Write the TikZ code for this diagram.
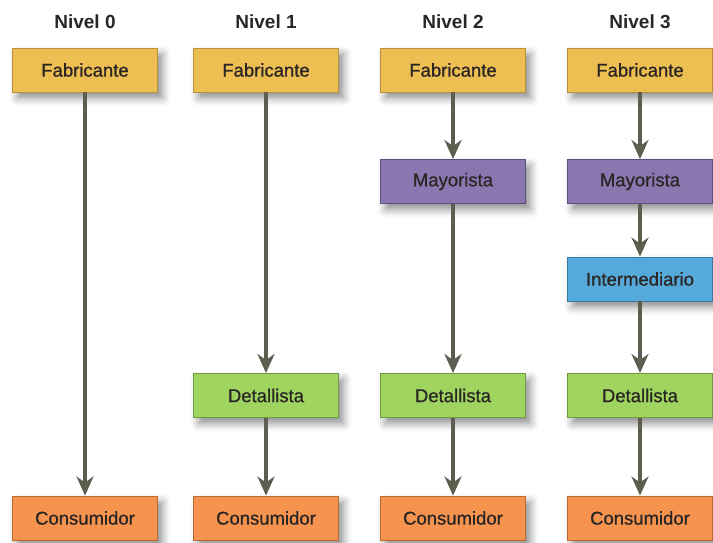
\documentclass[tikz,border=0pt]{standalone}
\usepackage{fontspec}
\setmainfont{Liberation Sans}
\newfontfamily\boxfont[FakeBold=0.8]{Liberation Sans}
\usetikzlibrary{arrows.meta,shadows.blur}
\definecolor{cfab}{HTML}{EDBE52}
\definecolor{cfabd}{HTML}{B8903A}
\definecolor{cmay}{HTML}{8B77B0}
\definecolor{cmayd}{HTML}{5E4E80}
\definecolor{cint}{HTML}{55AADB}
\definecolor{cintd}{HTML}{3A7AA0}
\definecolor{cdet}{HTML}{9ED45F}
\definecolor{cdetd}{HTML}{6E9A40}
\definecolor{ccon}{HTML}{F6934F}
\definecolor{ccond}{HTML}{B86A35}
\definecolor{carr}{HTML}{5E5E50}
\definecolor{ctxt}{HTML}{2A2624}
\begin{document}
\begin{tikzpicture}[x=1pt,y=-1pt,
  box/.style={draw=#1d, fill=#1, line width=0.9pt, minimum width=145pt, minimum height=44pt,
    inner sep=0pt, text=ctxt, font=\boxfont\fontsize{18.5}{20}\selectfont,
    blur shadow={shadow xshift=5pt, shadow yshift=-6pt, shadow blur radius=8pt, shadow opacity=45}},
  title/.style={font=\bfseries\fontsize{19}{21}\selectfont, text=ctxt},
  flow/.style={draw=carr, line width=4.5pt, -{Stealth[length=19pt,width=17pt,inset=6pt]}}
]
\useasboundingbox (0,0) rectangle (713,542);
% titles
\node[title] (t0) at (85,22) {Nivel 0};
\node[title] (t1) at (266,22) {Nivel 1};
\node[title] (t2) at (453,22) {Nivel 2};
\node[title] (t3) at (640,22) {Nivel 3};
% column 0
\node[box=cfab] (f0) at (85,70) {Fabricante};
\node[box=ccon] (c0) at (85,518) {Consumidor};
% column 1
\node[box=cfab] (f1) at (266,70) {Fabricante};
\node[box=cdet] (d1) at (266,395.5) {Detallista};
\node[box=ccon] (c1) at (266,518) {Consumidor};
% column 2
\node[box=cfab] (f2) at (453,70) {Fabricante};
\node[box=cmay] (m2) at (453,181.5) {Mayorista};
\node[box=cdet] (d2) at (453,395.5) {Detallista};
\node[box=ccon] (c2) at (453,518) {Consumidor};
% column 3
\node[box=cfab] (f3) at (640,70) {Fabricante};
\node[box=cmay] (m3) at (640,181.5) {Mayorista};
\node[box=cint] (i3) at (640,279) {Intermediario};
\node[box=cdet] (d3) at (640,395.5) {Detallista};
\node[box=ccon] (c3) at (640,518) {Consumidor};
% arrows
\draw[flow] (f0) -- (c0);
\draw[flow] (f1) -- (d1);
\draw[flow] (d1) -- (c1);
\draw[flow] (f2) -- (m2);
\draw[flow] (m2) -- (d2);
\draw[flow] (d2) -- (c2);
\draw[flow] (f3) -- (m3);
\draw[flow] (m3) -- (i3);
\draw[flow] (i3) -- (d3);
\draw[flow] (d3) -- (c3);
\end{tikzpicture}
\end{document}
